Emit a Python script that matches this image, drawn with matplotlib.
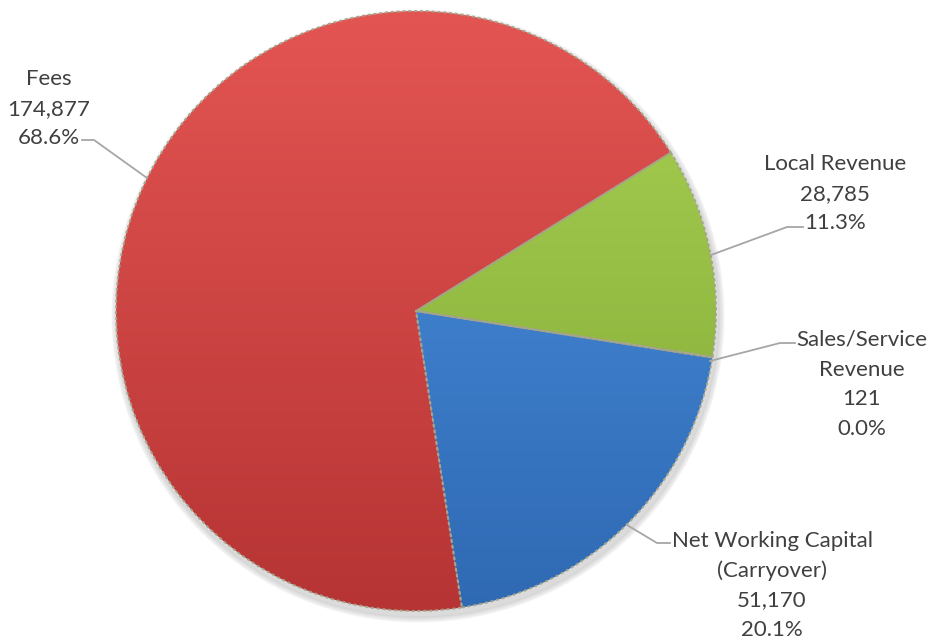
import matplotlib
matplotlib.use("Agg")
import matplotlib.pyplot as plt
import numpy as np
from matplotlib.colors import to_rgb

# funding sources
sources = ["Fees", "Local Revenue", "Sales/Service\nRevenue", "Net Working Capital\n(Carryover)"]
amounts = [174877, 28785, 121, 51170]
shares = ["68.6%", "11.3%", "0.0%", "20.1%"]

# top / bottom shade of each slice
tops = ["#e35552", "#a9d255", "#efefef", "#4c93e2"]
bottoms = ["#b63434", "#80a531", "#cccccc", "#2f69b3"]

fig = plt.figure(figsize=(9.36, 6.39), dpi=100)
ax = fig.add_axes([0, 0, 1, 1])
ax.set_aspect("equal")
ax.axis("off")

cx, cy, r = 416, 328, 300

# faint shadow under the pie
for k in range(6):
    sh = plt.Circle((cx + 2, cy - 5), r + 6 - k, color="#000000", alpha=0.025, zorder=0)
    ax.add_patch(sh)

wedges, _ = ax.pie(amounts, center=(cx, cy), radius=r, startangle=278.8,
                   counterclock=False, frame=False,
                   wedgeprops=dict(facecolor="none", edgecolor="#a4a48c",
                                   linewidth=1.4, linestyle=(0, (1.5, 1.5))))

n = 256
for w, c0, c1 in zip(wedges, tops, bottoms):
    a = np.array(to_rgb(c1))
    b = np.array(to_rgb(c0))
    t = np.linspace(0, 1, n)[:, None]
    grad = (a * (1 - t) + b * t)[:, None, :]
    im = ax.imshow(grad, extent=(cx - r, cx + r, cy - r, cy + r), origin="lower",
                   aspect="auto", zorder=1, interpolation="bilinear")
    im.set_clip_path(w)
    w.set_zorder(2)

ax.set_xlim(0, 936)
ax.set_ylim(0, 639)

H = 639
# label block: center x, center y of first line (pixels from top)
label_pos = [(49, 77), (835, 162), (862, 338), (772, 539)]
step = 29.7
# leader lines in pixel coords: text end, elbow, slice point
leaders = [
    [(82, 140), (94, 140), (147, 178)],
    [(803, 227), (787, 227), (711, 255)],
    [(795, 343), (780, 343), (710, 361)],
    [(670, 543), (657, 543), (627, 525)],
]

for name, amt, pct, (x, y), pts in zip(sources, amounts, shares, label_pos, leaders):
    lines = name.split("\n") + [f"{amt:,}", pct]
    for i, s in enumerate(lines):
        yy = y + i * step + 8
        ax.text(x, H - yy, s, ha="center", va="baseline", fontsize=16,
                family="Lato", color="#404040", zorder=5)
    xs = [p[0] for p in pts]
    ys = [H - p[1] for p in pts]
    ax.plot(xs, ys, color="#a6a6a6", lw=1.3, zorder=4)

fig.savefig("out.png", dpi=100)
